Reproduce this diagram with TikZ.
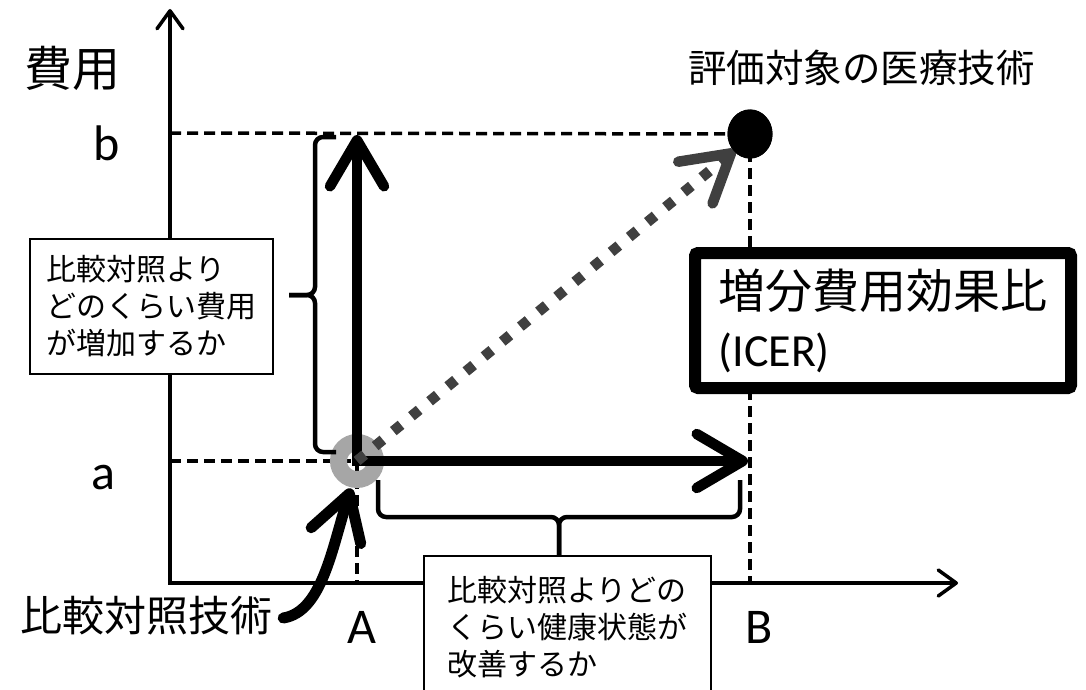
\documentclass[tikz,border=0pt]{standalone}
\usepackage{fontspec}
\setmainfont{Carlito}
\newfontfamily\jp{Noto Sans CJK JP}
\usetikzlibrary{arrows.meta,shapes.geometric}
\newcommand\fsz[2]{\fontsize{#1pt}{#2pt}\selectfont}
\definecolor{ringgray}{HTML}{A6A6A6}
\definecolor{dkgray}{HTML}{404040}
\begin{document}
\begin{tikzpicture}[x=1pt,y=-1pt,
  axisline/.style={line width=3.5pt,line join=miter,
    {Straight Barb[length=18pt,width=26pt,line cap=round,line join=round]}-{Straight Barb[length=18pt,width=26pt,line cap=round,line join=round]}},
  guideline/.style={line width=3.5pt,dash pattern=on 11pt off 6pt},
  bigarrow/.style={line width=10.5pt,-{Straight Barb[length=46pt,width=54pt,line cap=round,line join=round]}},
  dotarrow/.style={line width=10.5pt,color=dkgray,dash pattern=on 10pt off 13.5pt,-{Straight Barb[length=46pt,width=54pt,line cap=round,line join=round]}},
  curvearrow/.style={line width=11pt,line cap=round,-{Straight Barb[length=44pt,width=52pt,line cap=round,line join=round]}},
  bracestyle/.style={line width=4.5pt,rounded corners=8pt},
  infobox/.style={draw,fill=white,line width=1.8pt,align=left,inner sep=0pt,font=\jp\fsz{30}{37}},
  latlabel/.style={inner sep=0pt,font=\fsz{50}{60}},
  jplabel/.style={inner sep=0pt},
]
\useasboundingbox (0,0) rectangle (1086,690);
\clip (0,0) rectangle (1086,690);

% axes
\coordinate (orig) at (170,583);
\coordinate (ytip) at (170,9);
\coordinate (xtip) at (958,583);
\draw[axisline] (ytip) -- (orig) -- (xtip);

% key points
\coordinate (O) at (357,461);
\coordinate (Atop) at (357,135);
\coordinate (Aright) at (748,461);
\coordinate (Abase) at (357,583);
\coordinate (ya) at (170,461);
\coordinate (yb) at (170,133);
\coordinate (Bbase) at (750,583);
\node[ellipse,fill=black,minimum width=45pt,minimum height=49pt,inner sep=0pt] (target) at (750,134) {};

% guide lines
\draw[guideline] (yb) -- (target.center);
\draw[guideline] (target.center) -- (Bbase);
\draw[guideline] (ya) -- (O);
\draw[guideline] (O) -- (Abase);

% ring
\node[circle,draw=ringgray,line width=17pt,minimum size=37pt,inner sep=0pt,outer sep=0pt] (ring) at (O) {};

% thick arrows
\draw[bigarrow] ([yshift=-5pt]O) -- (Atop);
\draw[bigarrow] ([xshift=-5pt]O) -- (Aright);
\draw[dotarrow] (O) -- ([shift={(-15pt,-16pt)}]target.center);
\node[ellipse,fill=black,minimum width=45pt,minimum height=49pt,inner sep=0pt] at (target) {};

% braces
\draw[bracestyle] (336,137) -- (315,137) -- (315,295) -- (289,295);
\draw[bracestyle] (336,452) -- (315,452) -- (315,295) -- (289,295);
\draw[bracestyle] (378,480) -- (378,517) -- (559,517) -- (559,555);
\draw[bracestyle] (740,480) -- (740,517) -- (559,517) -- (559,555);

% boxes
\node[infobox,minimum width=243pt,minimum height=135pt,anchor=north west] (costbox) at (29,238)
  {比較対照より\\どのくらい費用\\が増加するか};
\node[infobox,minimum width=287pt,minimum height=142pt,anchor=north west] (effbox) at (423,555)
  {比較対照よりどの\\くらい健康状態が\\改善するか};
\node[draw,fill=white,line width=12pt,rounded corners=3pt,minimum width=376pt,minimum height=135pt,
  align=left,inner sep=0pt,font=\fsz{47}{58}] (icer) at (883,320.5)
  {{\jp 増分費用効果比}\\{\fsz{46}{58}(ICER)}};

% labels
\node[jplabel,font=\jp\fsz{48}{56}] (ylab) at (72,68) {費用};
\node[latlabel,anchor=base] (lb) at (107,160) {b};
\node[latlabel,anchor=base] (la) at (103,489) {a};
\node[latlabel,anchor=base] (lA) at (362,643) {A};
\node[latlabel,anchor=base] (lB) at (759,643) {B};
\node[jplabel,font=\jp\fsz{42}{50}] (ctrl) at (146,616) {比較対照技術};
\node[jplabel,font=\jp\fsz{38.5}{46},anchor=west] (tgtlab) at (688,68) {評価対象の医療技術};

% pointer from label to comparator
\draw[curvearrow] ([xshift=11pt,yshift=-2pt]ctrl.east) .. controls (322,612) and (332,548) .. ([shift={(-6pt,-9pt)}]ring.south);
\end{tikzpicture}
\end{document}
